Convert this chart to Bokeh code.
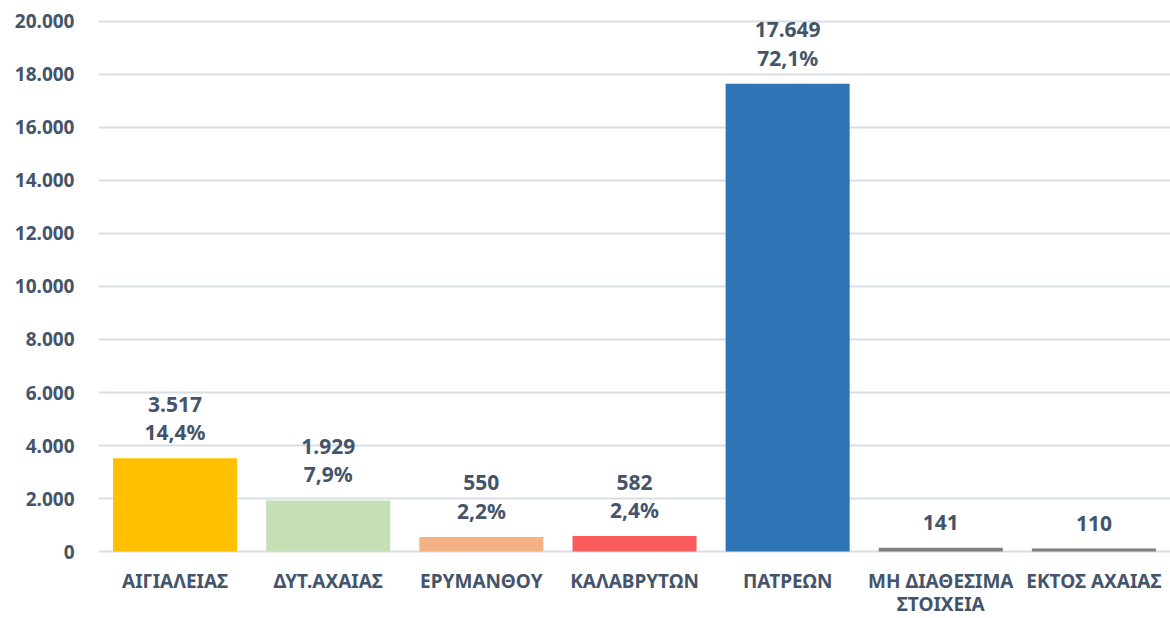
from bokeh.plotting import figure
from bokeh.models import ColumnDataSource, CustomJSTickFormatter, FixedTicker, Range1d
from bokeh.core.properties import value
from bokeh.embed import file_html
from bokeh.resources import INLINE

categories = ["ΑΙΓΙΑΛΕΙΑΣ", "ΔΥΤ.ΑΧΑΙΑΣ", "ΕΡΥΜΑΝΘΟΥ", "ΚΑΛΑΒΡΥΤΩΝ", "ΠΑΤΡΕΩΝ",
              "ΜΗ ΔΙΑΘΕΣΙΜΑ\nΣΤΟΙΧΕΙΑ", "ΕΚΤΟΣ ΑΧΑΙΑΣ"]
values = [3517, 1929, 550, 582, 17649, 141, 110]
pct_labels = ["14,4%", "7,9%", "2,2%", "2,4%", "72,1%", "", ""]
colors = ["#FFC000", "#C5E0B4", "#F4B183", "#FA5C5C", "#2E75B6", "#7F7F7F", "#7F7F7F"]
y_ticks = [0, 2000, 4000, 6000, 8000, 10000, 12000, 14000, 16000, 18000, 20000]

FONT = "Noto Sans"
TXT = "#44546A"

def fmt(v):
    return f"{v:,}".replace(",", ".")

p = figure(x_range=categories, width=1170, height=618, output_backend="svg",
           toolbar_location=None, min_border_left=98, min_border_right=0,
           min_border_top=0, min_border_bottom=0)
p.y_range = Range1d(-2528, 20792)
p.outline_line_color = None
p.background_fill_color = "white"
p.xaxis.visible = False

src = ColumnDataSource(dict(cat=categories, val=values, col=colors))
p.vbar(x="cat", top="val", width=0.81, fill_color="col", line_color=None, source=src)

with_pct = [i for i, s in enumerate(pct_labels) if s]
without_pct = [i for i, s in enumerate(pct_labels) if not s]

src_a = ColumnDataSource(dict(cat=[categories[i] for i in with_pct],
                              val=[values[i] for i in with_pct],
                              vtxt=[fmt(values[i]) for i in with_pct],
                              ptxt=[pct_labels[i] for i in with_pct]))
src_b = ColumnDataSource(dict(cat=[categories[i] for i in without_pct],
                              val=[values[i] for i in without_pct],
                              vtxt=[fmt(values[i]) for i in without_pct]))

common = dict(text_font=value(FONT), text_font_size="21px", text_font_style="bold",
              text_color=TXT, text_align="center", text_baseline="middle")
p.text(x="cat", y="val", text="vtxt", y_offset=-54, source=src_a, **common)
p.text(x="cat", y="val", text="ptxt", y_offset=-26, source=src_a, **common)
p.text(x="cat", y="val", text="vtxt", y_offset=-25, source=src_b, **common)

# category labels (drawn below the zero line)
line1 = [c.split("\n")[0] for c in categories]
line2 = [c.split("\n")[1] if "\n" in c else "" for c in categories]
src_c = ColumnDataSource(dict(cat=categories, zero=[0] * len(categories), l1=line1, l2=line2))
cat_style = dict(text_font=value(FONT), text_font_size="19px", text_font_style="bold",
                 text_color=TXT, text_align="center", text_baseline="middle")
p.text(x="cat", y="zero", text="l1", y_offset=29, source=src_c, **cat_style)
p.text(x="cat", y="zero", text="l2", y_offset=52, source=src_c, **cat_style)

p.yaxis.ticker = FixedTicker(ticks=y_ticks)
p.yaxis.formatter = CustomJSTickFormatter(code="""
    if (tick == 0) { return "0"; }
    return (tick/1000).toFixed(3);
""")
p.yaxis.axis_line_color = None
p.yaxis.major_tick_line_color = None
p.yaxis.minor_tick_line_color = None
p.yaxis.major_label_text_font = FONT
p.yaxis.major_label_text_font_style = "bold"
p.yaxis.major_label_text_font_size = "19px"
p.yaxis.major_label_text_color = TXT
p.yaxis.major_label_standoff = 18

p.xgrid.grid_line_color = None
p.ygrid.grid_line_color = "#D9DDE6"
p.ygrid.grid_line_width = 2

open("out.html", "w").write(file_html(p, INLINE))
